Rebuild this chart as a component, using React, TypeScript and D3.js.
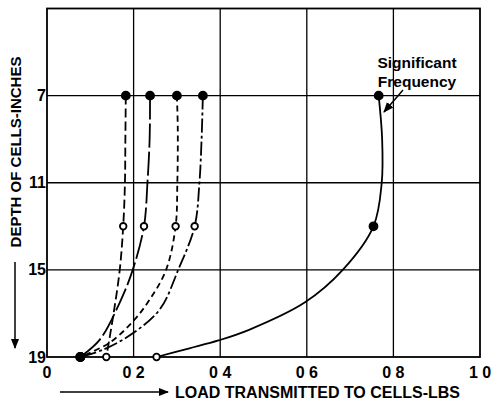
import React from "react";
import * as d3 from "d3";

// depths (inches) where the measured points sit
const markerDepths = [7, 13, 19];

// load at each marker depth, per curve
const markerLoads = [
  [0.182, 0.176, 0.137],
  [0.238, 0.224, 0.077],
  [0.3, 0.297, 0.077],
  [0.36, 0.341, 0.077],
  [0.766, 0.754, 0.253],
];

// marker fill: true = solid dot, false = open ring
const markerFilled = [
  [true, false, false],
  [true, false, true],
  [true, false, true],
  [true, false, true],
  [true, true, false],
];

// traced curve points [depth, load]
const curve1 = [[7, 0.182], [9, 0.181], [11, 0.18], [13, 0.176], [15, 0.168], [17.1, 0.153], [19, 0.137]];
const curve2 = [[7, 0.238], [9, 0.237], [11, 0.232], [13, 0.224], [15, 0.198], [16.5, 0.168], [18.2, 0.122], [19, 0.077]];
const curve3 = [[7, 0.3], [8.5, 0.302], [11, 0.301], [13, 0.297], [15, 0.275], [16.4, 0.236], [17.4, 0.197], [18.35, 0.144], [19, 0.077]];
const curve4 = [[7, 0.36], [9, 0.357], [11, 0.352], [13, 0.341], [15, 0.303], [16.8, 0.261], [17.9, 0.199], [18.66, 0.13], [19, 0.077]];
const curve5 = [[7, 0.766], [9, 0.774], [11, 0.773], [13, 0.754], [15, 0.683], [16.5, 0.595], [17.74, 0.468], [18.24, 0.396], [18.6, 0.329], [19, 0.253]];
const curves = [curve1, curve2, curve3, curve4, curve5];
const dashes = ["9,4", "24,4", "6,4", "14,3,3,3", null];

const xTicks = [0, 0.2, 0.4, 0.6, 0.8, 1.0];
const xTickLabels = ["0", "0 2", "0 4", "0 6", "0 8", "1 0"];
const yTicks = [7, 11, 15, 19];

const W = 491;
const H = 400;
const font = "'Liberation Sans', Arial, sans-serif";

export default function App() {
  const x = d3.scaleLinear().domain([0, 1]).range([47, 480]);
  const y = d3.scaleLinear().domain([3, 19]).range([8.5, 357]);

  const line = d3
    .line<number[]>()
    .x((d) => x(d[1]))
    .y((d) => y(d[0]))
    .curve(d3.curveCatmullRom.alpha(0.5));

  return (
    <svg width={W} height={H} style={{ position: "absolute", left: 0, top: 0, background: "#fff" }}>
      <defs>
        <marker id="ah" viewBox="0 0 10 10" refX="9" refY="5" markerWidth="7" markerHeight="7" orient="auto">
          <path d="M0,1 L10,5 L0,9 Z" fill="#000" />
        </marker>
      </defs>

      {/* grid */}
      {xTicks.slice(1, -1).map((t) => (
        <line key={"gx" + t} x1={x(t)} x2={x(t)} y1={y(3)} y2={y(19)} stroke="#000" strokeWidth={1.3} />
      ))}
      {yTicks.slice(0, -1).map((t) => (
        <line key={"gy" + t} x1={x(0)} x2={x(1)} y1={y(t)} y2={y(t)} stroke="#000" strokeWidth={1.3} />
      ))}
      <rect x={x(0)} y={y(3)} width={x(1) - x(0)} height={y(19) - y(3)} fill="none" stroke="#000" strokeWidth={1.8} />

      {/* curves */}
      {curves.map((c, i) => (
        <path
          key={"c" + i}
          d={line(c) || ""}
          fill="none"
          stroke="#000"
          strokeWidth={1.8}
          strokeDasharray={dashes[i] || undefined}
        />
      ))}

      {/* markers */}
      {markerLoads.map((loads, i) =>
        loads.map((v, j) => (
          <circle
            key={"m" + i + "-" + j}
            cx={x(v)}
            cy={y(markerDepths[j])}
            r={markerFilled[i][j] ? 4 : 3.3}
            fill={markerFilled[i][j] ? "#000" : "#fff"}
            stroke="#000"
            strokeWidth={1.8}
          />
        ))
      )}

      {/* tick labels */}
      {xTicks.map((t, i) => (
        <text key={"xt" + t} x={x(t)} y={378} textAnchor="middle" fontFamily={font} fontWeight="bold" fontSize={16}>
          {xTickLabels[i]}
        </text>
      ))}
      {yTicks.map((t) => (
        <text key={"yt" + t} x={46} y={y(t)} dy="0.35em" textAnchor="end" fontFamily={font} fontWeight="bold" fontSize={16}>
          {t}
        </text>
      ))}

      {/* axis titles */}
      <text
        transform={`translate(21,152) rotate(-90)`}
        textAnchor="middle"
        fontFamily={font}
        fontWeight="bold"
        fontSize={15}
      >
        DEPTH OF CELLS-INCHES
      </text>
      <line x1={15} x2={15} y1={262} y2={348} stroke="#000" strokeWidth={1.5} markerEnd="url(#ah)" />

      <text x={175} y={398} textAnchor="start" fontFamily={font} fontWeight="bold" fontSize={16}>
        LOAD TRANSMITTED TO CELLS-LBS
      </text>
      <line x1={60} x2={168} y1={392} y2={392} stroke="#000" strokeWidth={1.5} markerEnd="url(#ah)" />

      {/* annotation */}
      <text x={417} y={68} textAnchor="middle" fontFamily={font} fontWeight="bold" fontSize={15.5}>
        Significant
      </text>
      <text x={417} y={87} textAnchor="middle" fontFamily={font} fontWeight="bold" fontSize={15.5}>
        Frequency
      </text>
      <line x1={403} x2={384} y1={90} y2={112} stroke="#000" strokeWidth={1.5} markerEnd="url(#ah)" />
    </svg>
  );
}
